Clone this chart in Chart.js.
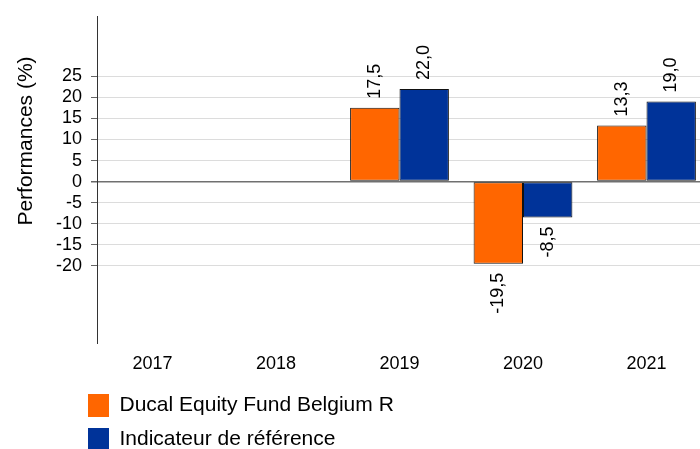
<!DOCTYPE html>
<html>
<head>
<meta charset="utf-8">
<script src="https://cdn.jsdelivr.net/npm/chart.js@4/dist/chart.umd.min.js"></script>
<style>
html,body{margin:0;padding:0;background:#fff;overflow:hidden}
#wrap{width:700px;height:449px;position:relative}
</style>
</head>
<body>
<div id="wrap"><canvas id="c" width="700" height="449"></canvas></div>
<script>
const categories = ['2017', '2018', '2019', '2020', '2021'];
const fundValues = [null, null, 17.5, -19.5, 13.3];
const benchmarkValues = [null, null, 22.0, -8.5, 19.0];
const yTickValues = [-20, -15, -10, -5, 0, 5, 10, 15, 20, 25];
const seriesNames = ['Ducal Equity Fund Belgium R', 'Indicateur de référence'];
const yAxisTitle = 'Performances (%)';

const FONT = "'Liberation Sans', Arial, sans-serif";

const layoutTweak = {
  id: 'layoutTweak',
  afterLayout(chart) {
    const x = chart.scales.x;
    x.left = 90.75;
    x.right = 708.25;
    x.width = x.right - x.left;
    x.configure();
    const lg = chart.legend;
    if (lg) {
      lg.left = 77;
      lg.right = 417;
      lg.width = 340;
      lg.top = 383;
      lg.bottom = 461;
      lg.height = 78;
    }
  }
};

const valueLabels = {
  id: 'valueLabels',
  afterDatasetsDraw(chart) {
    const ctx = chart.ctx;
    ctx.save();
    ctx.font = '18px ' + FONT;
    ctx.fillStyle = '#000';
    ctx.textBaseline = 'middle';
    chart.data.datasets.forEach((ds, di) => {
      const meta = chart.getDatasetMeta(di);
      meta.data.forEach((el, i) => {
        const v = ds.data[i];
        if (v === null || v === undefined) return;
        const txt = v.toFixed(1).replace('.', ',');
        ctx.save();
        if (v >= 0) {
          ctx.translate(el.x, el.y - 9);
          ctx.rotate(-Math.PI / 2);
          ctx.textAlign = 'left';
        } else {
          ctx.translate(el.x, el.y + 9);
          ctx.rotate(-Math.PI / 2);
          ctx.textAlign = 'right';
        }
        ctx.fillText(txt, 0, 0);
        ctx.restore();
      });
    });
    ctx.restore();
  }
};

const axisTitlePlugin = {
  id: 'axisTitlePlugin',
  afterDraw(chart) {
    const ctx = chart.ctx;
    ctx.save();
    ctx.font = '21px ' + FONT;
    ctx.fillStyle = '#000';
    ctx.textAlign = 'center';
    ctx.textBaseline = 'middle';
    ctx.translate(26, 141);
    ctx.rotate(-Math.PI / 2);
    ctx.fillText(yAxisTitle, 0, 0);
    ctx.restore();
  }
};

new Chart(document.getElementById('c'), {
  type: 'bar',
  data: {
    labels: categories,
    datasets: [
      {
        label: seriesNames[0],
        data: fundValues,
        backgroundColor: '#FF6600',
        borderColor: '#111',
        borderWidth: 1,
        borderSkipped: false
      },
      {
        label: seriesNames[1],
        data: benchmarkValues,
        backgroundColor: '#003399',
        borderColor: '#111',
        borderWidth: 1,
        borderSkipped: false
      }
    ]
  },
  options: {
    responsive: false,
    animation: false,
    devicePixelRatio: 1,
    layout: { padding: { top: 16, right: 0, left: 0, bottom: 0 } },
    datasets: { bar: { barPercentage: 1, categoryPercentage: 0.8 } },
    scales: {
      x: {
        grid: { display: false, drawTicks: false },
        border: { display: false },
        ticks: { color: '#000', font: { family: FONT, size: 18 }, padding: 10, maxRotation: 0 },
        afterFit(scale) { scale.height = 62; }
      },
      y: {
        min: -38.3,
        max: 39.3,
        afterBuildTicks(scale) { scale.ticks = yTickValues.map(v => ({ value: v })); },
        afterFit(scale) { scale.width = 97; scale.paddingTop = 0; scale.paddingBottom = 0; },
        grid: {
          color: c => (c.tick && c.tick.value === 0) ? '#707070' : '#dcdcdc',
          lineWidth: c => (c.tick && c.tick.value === 0) ? 1.5 : 1,
          tickColor: '#666',
          tickLength: 6,
          drawTicks: true
        },
        border: { display: true, color: '#333', width: 1 },
        ticks: {
          color: '#000',
          font: { family: FONT, size: 18 },
          padding: 9,
          callback: v => String(v)
        }
      }
    },
    plugins: {
      legend: {
        position: 'bottom',
        align: 'start',
        labels: {
          color: '#000',
          font: { family: FONT, size: 21 },
          boxWidth: 21,
          boxHeight: 23,
          padding: 11,
          generateLabels(chart) {
            const items = Chart.defaults.plugins.legend.labels.generateLabels(chart);
            return items.map(it => Object.assign(it, { lineWidth: 0, strokeStyle: 'rgba(0,0,0,0)' }));
          }
        }
      },
      tooltip: { enabled: false }
    }
  },
  plugins: [layoutTweak, valueLabels, axisTitlePlugin]
});
</script>
</body>
</html>
